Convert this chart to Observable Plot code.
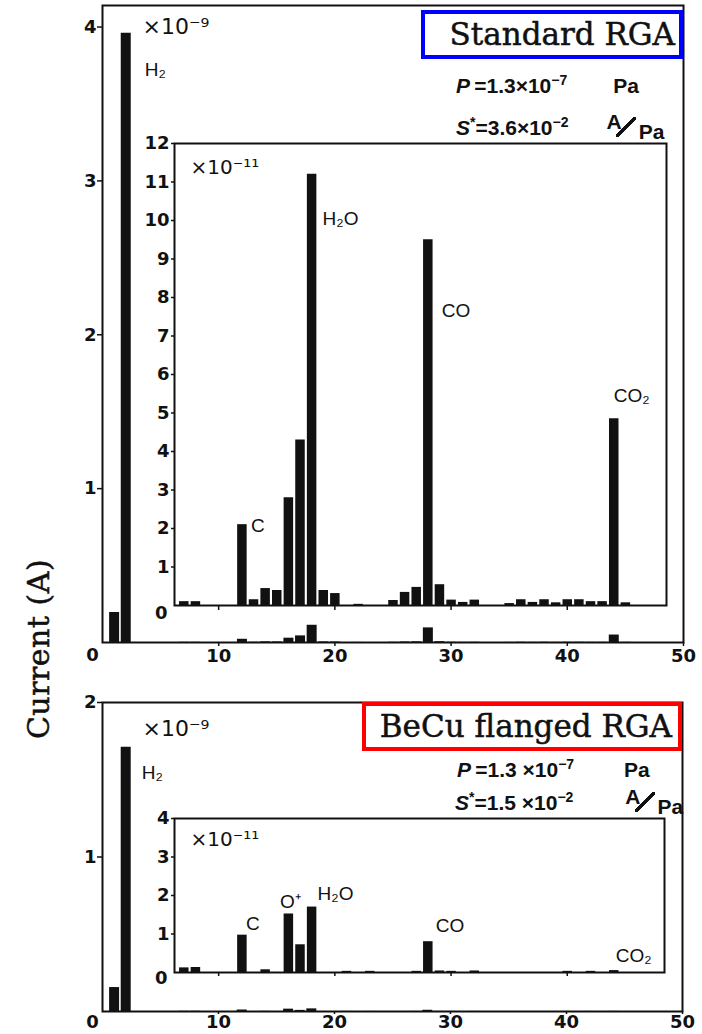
<!DOCTYPE html>
<html>
<head>
<meta charset="utf-8">
<script src="https://cdn.jsdelivr.net/npm/d3@7"></script>
<script src="https://cdn.jsdelivr.net/npm/@observablehq/plot@0.6"></script>
<style>
  html, body { margin: 0; padding: 0; background: #fff; }
  #chart { position: relative; width: 702px; height: 1034px; overflow: hidden; background: #fff; }
  .layer { position: absolute; left: 0; width: 702px; }
  .layer svg { display: block; max-width: none; overflow: visible; }
  .titlebox { position: absolute; box-sizing: border-box; background: #fff; font-family: "DejaVu Serif", serif;
    font-size: 31px; line-height: 41px; text-align: right; white-space: nowrap; color: #111; -webkit-text-stroke: 0.5px #111; }
  .param { position: absolute; font-family: "Liberation Sans", Arial, sans-serif; font-weight: bold; font-size: 21px;
    line-height: 21px; white-space: nowrap; color: #111; }
  .param sup { font-size: 14px; line-height: 0; vertical-align: 8px; }
  .param .up { position: relative; top: -6px; }
  .param .dn { position: relative; top: 4px; }
  .param .sl { display: inline-block; width: 20px; height: 20px; position: relative; top: 2px;
    background: linear-gradient(to bottom right, transparent 44%, #111 44%, #111 56%, transparent 56%); }
  .ylabel { position: absolute; left: 38px; top: 649px; transform: translate(-50%, -50%) rotate(-90deg);
    font-family: "DejaVu Serif", serif; font-size: 30px; letter-spacing: 0.5px; white-space: nowrap; color: #111; -webkit-text-stroke: 0.5px #111; }
</style>
</head>
<body>
<div id="chart">
  <div class="layer" id="outerTop" style="top:0px"></div>
  <div class="layer" id="insetTop" style="top:0px"></div>
  <div class="layer" id="outerBottom" style="top:690px"></div>
  <div class="layer" id="insetBottom" style="top:690px"></div>

  <div class="titlebox" style="left:421px;top:10px;width:262px;height:49px;border:4px solid #0000ff;padding-right:4px;">Standard RGA</div>
  <div class="param" style="left:456px;top:75px;"><i>P</i>&thinsp;=1.3×10<sup>−7</sup><span style="margin-left:46px">Pa</span></div>
  <div class="param" style="left:456px;top:115px;"><i>S</i><sup>*</sup>=3.6×10<sup>−2</sup><span class="up" style="margin-left:38px">A</span><span class="sl" style="margin-left:-6px"></span><span class="dn" style="margin-left:3px">Pa</span></div>

  <div class="titlebox" style="left:362px;top:702px;width:320px;height:49px;border:4px solid #ff0000;padding-right:6px;">BeCu flanged RGA</div>
  <div class="param" style="left:457px;top:759px;"><i>P</i>&thinsp;=1.3 ×10<sup>−7</sup><span style="margin-left:50px">Pa</span></div>
  <div class="param" style="left:455px;top:790px;"><i>S</i><sup>*</sup>=1.5 ×10<sup>−2</sup><span class="up" style="margin-left:52px">A</span><span class="sl" style="margin-left:-6px"></span><span class="dn" style="margin-left:3px">Pa</span></div>

  <div class="ylabel">Current (A)</div>
</div>
<script>
// ---- data (ion current in units of 10^-11 A, by mass number) ----
const massTop = [1, 2, 7, 8, 12, 13, 14, 15, 16, 17, 18, 19, 20, 22, 25, 26, 27, 28, 29, 30, 31, 32, 35, 36, 37, 38, 39, 40, 41, 42, 43, 44, 45];
const currentTop = [19.5, 396, 0.1, 0.1, 2.1, 0.15, 0.44, 0.39, 2.8, 4.3, 11.2, 0.39, 0.31, 0.03, 0.13, 0.34, 0.47, 9.5, 0.54, 0.14, 0.08, 0.14, 0.05, 0.15, 0.08, 0.15, 0.07, 0.15, 0.15, 0.1, 0.1, 4.85, 0.07];
const massBottom = [1, 2, 7, 8, 12, 14, 16, 17, 18, 21, 23, 27, 28, 29, 30, 32, 40, 42, 44];
const currentBottom = [15.5, 171, 0.12, 0.13, 0.97, 0.07, 1.52, 0.72, 1.7, 0.03, 0.03, 0.03, 0.8, 0.04, 0.03, 0.04, 0.03, 0.03, 0.05];

const speciesTop = ["H₂", "C", "H₂O", "CO", "CO₂"];
const speciesTopMass = [2, 12, 18, 28, 44];
const speciesBottom = ["H₂", "C", "O⁺", "H₂O", "CO", "CO₂"];
const speciesBottomMass = [2, 12, 16, 18, 28, 44];

const outerXTicks = [10, 20, 30, 40, 50];
const outerYTicksTop = [1, 2, 3, 4];
const outerYTicksBottom = [1, 2];
const insetXTicks = [10, 20, 30, 40];
const insetYTicksTop = [1, 2, 3, 4, 5, 6, 7, 8, 9, 10, 11, 12];
const insetYTicksBottom = [1, 2, 3, 4];
const zeroTick = [0];
const scaleOuter = "×10⁻⁹";
const scaleInset = "×10⁻¹¹";

// ---- tables ----
const topData = massTop.map((m, i) => ({mass: m, current: currentTop[i]}));
const bottomData = massBottom.map((m, i) => ({mass: m, current: currentBottom[i]}));

const ink = "#111";
const axisStyle = {fontFamily: "DejaVu Sans, sans-serif", fontSize: "18px", fontWeight: "bold", background: "transparent", overflow: "visible", color: ink};
const labelFont = "Liberation Sans, Arial, sans-serif";
const scaleFont = "DejaVu Sans, sans-serif";
const fmt = d => String(d);

const outerY = d => d.current / 100;   // units of 10^-9 A
const insetY = d => d.current;         // units of 10^-11 A

function tag(data, mass, text, fy, dx, dy, anchor = "start") {
  return Plot.text(data.filter(d => d.mass === mass), {
    x: "mass", y: fy, text: () => text, dx, dy, textAnchor: anchor, lineAnchor: "middle",
    fontFamily: labelFont, fontSize: 19, fontWeight: "normal", fill: ink
  });
}
function scaleTag(text, dx, dy, size) {
  return Plot.text([text], {frameAnchor: "top-left", text: d => d, dx, dy, textAnchor: "start", lineAnchor: "bottom",
    fontFamily: scaleFont, fontSize: size, fontWeight: "normal", fill: ink});
}

// ---- top outer ----
document.getElementById("outerTop").append(Plot.plot({
  width: 702, height: 680, marginLeft: 102, marginRight: 19, marginTop: 5, marginBottom: 38,
  x: {domain: [0, 50]}, y: {domain: [0, 4.14]},
  style: axisStyle,
  marks: [
    Plot.frame({stroke: ink, strokeWidth: 2}),
    Plot.ruleX(topData, {x: "mass", y1: 0, y2: outerY, stroke: ink, strokeWidth: 10}),
    Plot.axisY(outerYTicksTop, {tickSize: 5, tickPadding: 1, tickFormat: fmt, label: null, stroke: ink, strokeWidth: 1.5}),
    Plot.axisX(outerXTicks, {tickSize: 4, tickPadding: 3, tickFormat: fmt, label: null, stroke: ink, strokeWidth: 1.5}),
    Plot.axisX(zeroTick, {tickSize: 0, tickPadding: 6, dx: -10, tickFormat: fmt, label: null}),
    scaleTag(scaleOuter, 40, 28, 22),
    tag(topData, speciesTopMass[0], speciesTop[0], outerY, 19, 37)
  ]
}));

// ---- top inset ----
document.getElementById("insetTop").append(Plot.plot({
  width: 702, height: 640, marginLeft: 174, marginRight: 36, marginTop: 143, marginBottom: 35,
  x: {domain: [6.2, 48.54]}, y: {domain: [0, 12]},
  style: axisStyle,
  marks: [
    Plot.frame({stroke: ink, strokeWidth: 2}),
    Plot.ruleX(topData.filter(d => d.mass > 6), {x: "mass", y1: 0, y2: insetY, stroke: ink, strokeWidth: 9.5}),
    Plot.axisY(insetYTicksTop, {tickSize: 3, tickPadding: 2, tickFormat: fmt, label: null, stroke: ink, strokeWidth: 1.5}),
    Plot.axisY(zeroTick, {tickSize: 0, tickPadding: 7, dy: 8, tickFormat: fmt, label: null}),
    Plot.axisX(insetXTicks, {tickSize: 5, tickFormat: () => "", label: null, stroke: ink, strokeWidth: 1.5}),
    scaleTag(scaleInset, 16, 30, 20),
    tag(topData, speciesTopMass[1], speciesTop[1], insetY, 9, 1),
    tag(topData, speciesTopMass[2], speciesTop[2], insetY, 11, 45),
    tag(topData, speciesTopMass[3], speciesTop[3], insetY, 14, 71),
    tag(topData, speciesTopMass[4], speciesTop[4], insetY, 0, -23)
  ]
}));

// ---- bottom outer ----
document.getElementById("outerBottom").append(Plot.plot({
  width: 702, height: 344, marginLeft: 102, marginRight: 20, marginTop: 12, marginBottom: 23,
  x: {domain: [0, 50]}, y: {domain: [0, 2]},
  style: axisStyle,
  marks: [
    Plot.frame({stroke: ink, strokeWidth: 2}),
    Plot.ruleX(bottomData, {x: "mass", y1: 0, y2: outerY, stroke: ink, strokeWidth: 10}),
    Plot.axisY(outerYTicksBottom, {tickSize: 5, tickPadding: 1, tickFormat: fmt, label: null, stroke: ink, strokeWidth: 1.5}),
    Plot.axisX(outerXTicks, {tickSize: 3, tickPadding: 1, tickFormat: fmt, label: null, stroke: ink, strokeWidth: 1.5}),
    Plot.axisX(zeroTick, {tickSize: 0, tickPadding: 4, dx: -10, tickFormat: fmt, label: null}),
    scaleTag(scaleOuter, 40, 33, 22),
    tag(bottomData, speciesBottomMass[0], speciesBottom[0], outerY, 16, 26)
  ]
}));

// ---- bottom inset ----
document.getElementById("insetBottom").append(Plot.plot({
  width: 702, height: 344, marginLeft: 174, marginRight: 38, marginTop: 128, marginBottom: 62,
  x: {domain: [6.2, 48.37]}, y: {domain: [0, 4]},
  style: axisStyle,
  marks: [
    Plot.frame({stroke: ink, strokeWidth: 2}),
    Plot.ruleX(bottomData.filter(d => d.mass > 6), {x: "mass", y1: 0, y2: insetY, stroke: ink, strokeWidth: 9.5}),
    Plot.axisY(insetYTicksBottom, {tickSize: 3, tickPadding: 2, tickFormat: fmt, label: null, stroke: ink, strokeWidth: 1.5}),
    Plot.axisY(zeroTick, {tickSize: 0, tickPadding: 7, dy: 6, tickFormat: fmt, label: null}),
    Plot.axisX(insetXTicks, {tickSize: 4, tickFormat: () => "", label: null, stroke: ink, strokeWidth: 1.5}),
    scaleTag(scaleInset, 16, 27, 20),
    tag(bottomData, speciesBottomMass[1], speciesBottom[1], insetY, 4, -11),
    tag(bottomData, speciesBottomMass[2], speciesBottom[2], insetY, 2, -12, "middle"),
    tag(bottomData, speciesBottomMass[3], speciesBottom[3], insetY, 6, -13),
    tag(bottomData, speciesBottomMass[4], speciesBottom[4], insetY, 8, -16),
    tag(bottomData, speciesBottomMass[5], speciesBottom[5], insetY, 2, -15)
  ]
}));
</script>
</body>
</html>
